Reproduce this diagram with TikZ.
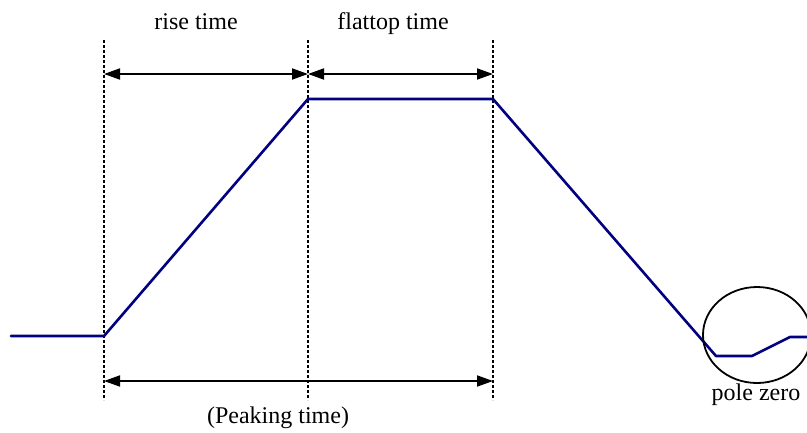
\documentclass[tikz,border=0pt]{standalone}
\usepackage{fontspec}
\setmainfont{Liberation Serif}
\usetikzlibrary{arrows.meta,shapes.geometric}
\begin{document}
\begin{tikzpicture}[x=1pt,y=-1pt,
  signal/.style={draw={rgb,255:red,0;green,0;blue,128},line width=2.6pt,line join=round,line cap=round},
  guide/.style={draw=black,line width=1.3pt,dash pattern=on 3pt off 2pt},
  span/.style={draw=black,line width=1.8pt,{Triangle[length=16pt,width=11pt]}-{Triangle[length=16pt,width=11pt]},shorten <=0pt,shorten >=0pt},
  lbl/.style={font=\fontsize{24}{26}\selectfont,inner sep=0pt}]
\useasboundingbox (0,0) rectangle (807,432);
% guide lines
\coordinate (g1t) at (104,40); \coordinate (g1b) at (104,400);
\coordinate (g2t) at (308,40); \coordinate (g2b) at (308,400);
\coordinate (g3t) at (493,40); \coordinate (g3b) at (493,400);
\draw[guide] (g1t) -- (g1b);
\draw[guide] (g2t) -- (g2b);
\draw[guide] (g3t) -- (g3b);
% signal
\coordinate (s0) at (11,336);
\coordinate (s1) at (104,336);
\coordinate (s2) at (308,99);
\coordinate (s3) at (493,99);
\coordinate (s4) at (716,356);
\coordinate (s5) at (752,356);
\coordinate (s6) at (790,337);
\coordinate (s7) at (810,337);
\draw[signal] (s0) -- (s1) -- (s2) -- (s3) -- (s4) -- (s5) -- (s6) -- (s7);
% span arrows
\coordinate (r1) at (104,74); \coordinate (r2) at (308,74); \coordinate (r3) at (493,74);
\coordinate (p1) at (104,381); \coordinate (p2) at (493,381);
\draw[span] (r1) -- (r2);
\draw[span] (r2) -- (r3);
\draw[span] (p1) -- (p2);
% labels
\node[lbl,anchor=base] (rise) at (196,29) {rise time};
\node[lbl,anchor=base] (flat) at (393,29) {flattop time};
\node[lbl,anchor=base] (peak) at (278,423) {(Peaking time)};
% pole zero
\node[draw=black,line width=1.8pt,ellipse,minimum width=108pt,minimum height=96pt,inner sep=0pt] (pz) at (757,335) {};
\node[lbl,anchor=base] (pzl) at (756,400) {pole zero};
\end{tikzpicture}
\end{document}
